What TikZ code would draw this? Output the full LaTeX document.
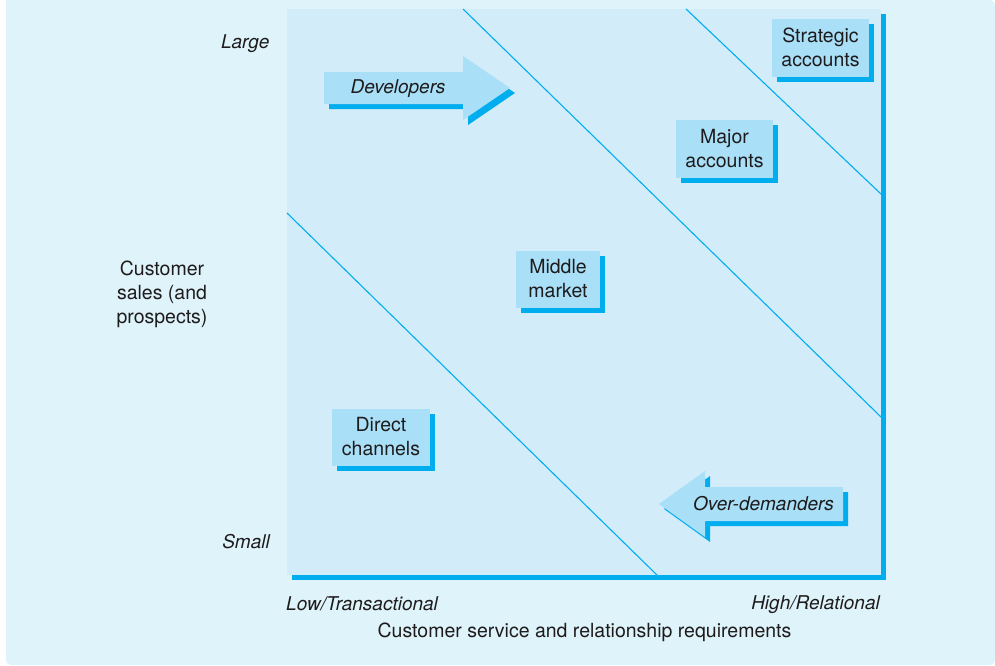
\documentclass[tikz,border=0pt]{standalone}
\usepackage{fontspec}
\setmainfont{TeX Gyre Heros}
\usetikzlibrary{shadows}
\definecolor{panel}{HTML}{DFF3FB}
\definecolor{plotbg}{HTML}{D3ECF9}
\definecolor{boxfill}{HTML}{A9DFF7}
\definecolor{accent}{HTML}{00AEEF}
\definecolor{ink}{HTML}{1E1B1C}
\begin{document}
\begin{tikzpicture}[x=1pt,y=-1pt,
  every node/.style={text=ink,font=\fontsize{19.5}{24}\selectfont,inner sep=0pt},
  lbl/.style={align=center},
  itlbl/.style={font=\fontsize{19}{24}\selectfont\itshape},
  segbox/.style={fill=boxfill,align=center,
    general shadow={fill=accent,shadow xshift=5pt,shadow yshift=-5pt}},
  divider/.style={draw=accent,line width=1.1pt},
  axisbar/.style={fill=accent},
  arrowbody/.style={fill=boxfill},
  arrowshade/.style={fill=accent}]
% page and panel
\useasboundingbox (0,0) rectangle (995,665);
\fill[white] (0,0) rectangle (995,665);
\fill[panel] (995,0) -- (6,0) -- (6,659) [rounded corners=5pt] -- (6,665) -- (995,665) -- cycle;
% plot area
\fill[plotbg] (287,9) rectangle (881,575);
% segment dividers
\draw[divider] (287,213) -- (658,576);
\draw[divider] (463,9) -- (881,417);
\draw[divider] (686,9) -- (881,194);
% axes
\fill[axisbar] (881,14) rectangle (886,580);
\fill[axisbar] (292,575) rectangle (886,580);
% segments
\node[segbox,minimum width=97pt,minimum height=58pt] (strategic) at (820.5,47.5) {Strategic\\accounts};
\node[segbox,minimum width=97pt,minimum height=58pt] (major) at (724.5,148.5) {Major\\accounts};
\node[segbox,minimum width=84pt,minimum height=57pt] (middle) at (558,279) {Middle\\market};
\node[segbox,minimum width=98pt,minimum height=57pt] (direct) at (381,437) {Direct\\channels};
% developers arrow
\fill[arrowshade,shift={(5,5)}] (324,72) -- (463,72) -- (463,56) -- (510,88) -- (463,120) -- (463,104) -- (324,104) -- cycle;
\fill[arrowbody] (324,72) -- (463,72) -- (463,56) -- (510,88) -- (463,120) -- (463,104) -- (324,104) -- cycle;
\node[itlbl] (developers) at (398,89) {Developers};
% over-demanders arrow
\fill[arrowshade,shift={(5,5)}] (843,487) -- (705,487) -- (705,471) -- (659,504) -- (705,537) -- (705,521) -- (843,521) -- cycle;
\fill[arrowbody] (843,487) -- (705,487) -- (705,471) -- (659,504) -- (705,537) -- (705,521) -- (843,521) -- cycle;
\node[itlbl] (overdemanders) at (763.5,503.5) {Over-demanders};
% axis labels
\node[itlbl,anchor=east] (large) at (269.5,43.5) {Large};
\node[itlbl,anchor=east] (small) at (270,541.5) {Small};
\node[lbl] (yaxis) at (162,294.5) {Customer\\sales (and\\prospects)};
\node[itlbl,anchor=west] (low) at (286,604) {Low/Transactional};
\node[itlbl,anchor=east] (high) at (880,605) {High/Relational};
\node[lbl] (xaxis) at (584.5,632.5) {Customer service and relationship requirements};
\end{tikzpicture}
\end{document}
